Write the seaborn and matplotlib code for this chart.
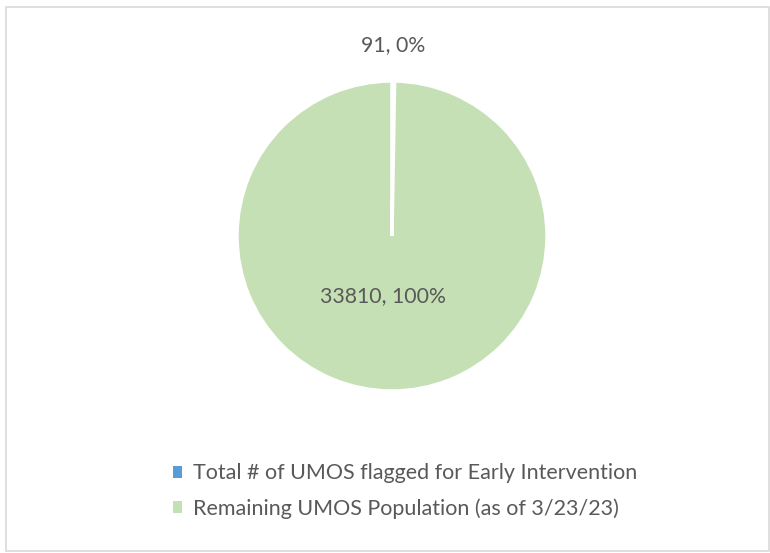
import numpy as np
import matplotlib
matplotlib.use("Agg")
import matplotlib.pyplot as plt
import seaborn as sns
from matplotlib.patches import Rectangle, Patch

# ── Data ──────────────────────────────────────────────────────────────────────
categories = [
    "Total # of UMOS flagged for Early Intervention",
    "Remaining UMOS Population (as of 3/23/23)",
]
counts = [91, 33810]
colors = ["#5B9BD5", "#C5E0B4"]
label_dist = [1.23, 0.39]

TEXT = "#595959"

sns.set_theme(style="white")
plt.rcParams["font.family"] = ["Lato", "DejaVu Sans"]

W, H = 770, 553
fig = plt.figure(figsize=(W / 100, H / 100), dpi=100)

# outer chart border
fig.patches.append(Rectangle((6 / W, 1 - 551 / H), 763 / W, 544 / H,
                             transform=fig.transFigure, fill=False,
                             edgecolor="#D9D9D9", linewidth=1.2))

# pie centred at (392, 236) px, radius ~155 px
cx, cy, r = 392, 236, 155
ax = fig.add_axes([(cx - r) / W, 1 - (cy + r) / H, 2 * r / W, 2 * r / H])
wedges, _ = ax.pie(counts, colors=colors, startangle=90, counterclock=False,
                   wedgeprops=dict(edgecolor="white", linewidth=2.5))
ax.set_xlim(-1, 1)
ax.set_ylim(-1, 1)
ax.set_aspect("equal")

total = sum(counts)
for w, n, d in zip(wedges, counts, label_dist):
    ang = np.deg2rad((w.theta1 + w.theta2) / 2)
    pct = round(100 * n / total)
    ax.text(d * np.cos(ang) - (0.055 if d < 1 else 0), d * np.sin(ang), f"{n}, {pct}%",
            ha="center", va="center", fontsize=15.3, color=TEXT, clip_on=False)

handles = [Patch(facecolor=c, edgecolor="none") for c in colors]
fig.legend(handles, categories, loc="center", bbox_to_anchor=(405 / W, 1 - 491 / H),
           frameon=False, fontsize=15.5, labelcolor=TEXT, handlelength=0.45,
           handleheight=0.45, handletextpad=0.5, labelspacing=0.68)

fig.savefig("out.png", dpi=100)
